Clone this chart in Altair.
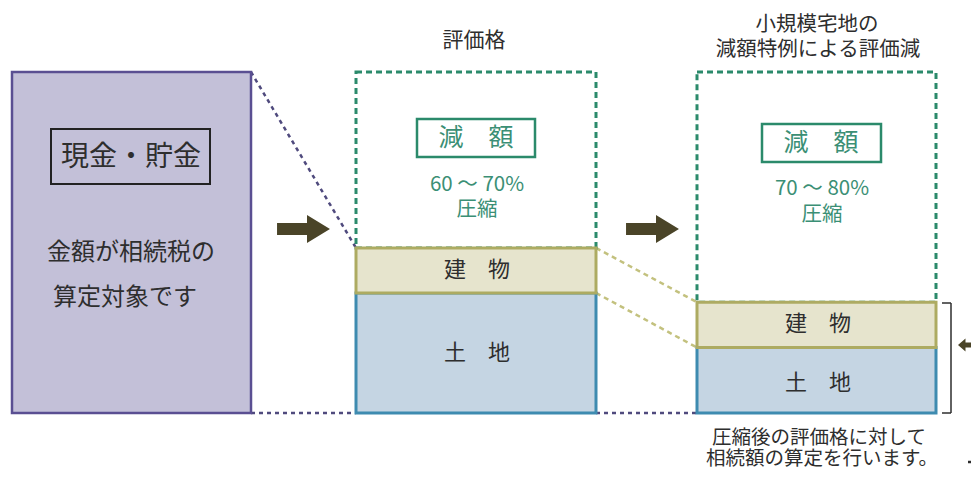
import altair as alt
import pandas as pd

# ---------------- data ----------------
columns = ["現金・貯金", "評価格", "小規模宅地の減額特例による評価減"]
total_value = [100.0, 100.0, 100.0]
land_value = [0.0, 35.2, 19.2]
building_value = [0.0, 13.2, 13.3]
reduction_rate = ["60 ～ 70%", "70 ～ 80%"]
cash_lines = ["金額が相続税の", "算定対象です"]
title_mid = ["評価格"]
title_right = ["小規模宅地の", "減額特例による評価減"]
note_lines = ["圧縮後の評価格に対して", "相続額の算定を行います。"]
land_label = "土　地"
building_label = "建　物"
reduction_label = "減　額"
compress_label = "圧縮"

# ---------------- layout (pixels of the 979x478 page) ----------------
PAGE_LEFT, PAGE_TOP = 8, 8
PLOT_W, PLOT_H = 963, 462
BASE_PX = 413       # pixel row of value 0
UNIT_PX = 3.41      # pixels per value unit
COL_X = [(12, 251), (356, 596), (697, 936)]
FONT = "Noto Sans CJK JP"

PURPLE_FILL = "#c3c0d8"
PURPLE_STROKE = "#5a4f92"
GREEN = "#2b8a6b"
GREEN_TEXT = "#3b8f75"
LAND_FILL = "#c5d5e3"
LAND_STROKE = "#3e8bb0"
BLD_FILL = "#e6e4cd"
BLD_STROKE = "#adab62"
ARROW = "#4a4428"
DARK = "#2e2e2e"
DOT_PURPLE = "#4f4a7d"
DOT_OLIVE = "#c3c17e"


def vy(px):
    return (BASE_PX - px) / UNIT_PX


X_DOMAIN = [PAGE_LEFT, PAGE_LEFT + PLOT_W]
Y_DOMAIN = [vy(PAGE_TOP + PLOT_H), vy(PAGE_TOP)]
xs = alt.Scale(domain=X_DOMAIN, nice=False, zero=False)
ys = alt.Scale(domain=Y_DOMAIN, nice=False, zero=False)


def X(f):
    return alt.X(f, type="quantitative", scale=xs, axis=None)


def Y(f):
    return alt.Y(f, type="quantitative", scale=ys, axis=None)


# ---------------- tables ----------------
cash = pd.DataFrame({
    "x1": [COL_X[0][0]], "x2": [COL_X[0][1]],
    "y1": [0.0], "y2": [total_value[0]],
})

stack = pd.DataFrame({
    "col": columns[1:],
    "x1": [COL_X[1][0], COL_X[2][0]],
    "x2": [COL_X[1][1], COL_X[2][1]],
    "land": land_value[1:],
    "building": building_value[1:],
    "total": total_value[1:],
})
stack["zero"] = 0.0
stack["bld_top"] = stack["land"] + stack["building"]

b1 = stack.iloc[0]
b2 = stack.iloc[1]
purple_lines = pd.DataFrame({
    "x1": [COL_X[0][1], COL_X[0][1], COL_X[1][1]],
    "x2": [COL_X[1][0], COL_X[1][0], COL_X[2][0]],
    "y1": [total_value[0], 0.0, 0.0],
    "y2": [b1["bld_top"], 0.0, 0.0],
})
olive_lines = pd.DataFrame({
    "x1": [COL_X[1][1], COL_X[1][1]],
    "x2": [COL_X[2][0], COL_X[2][0]],
    "y1": [b1["bld_top"], b1["land"]],
    "y2": [b2["bld_top"], b2["land"]],
})

red_boxes = pd.DataFrame({
    "x1": [417, 762], "x2": [535, 881],
    "y1": [vy(119), vy(124)], "y2": [vy(157), vy(162)],
})
cash_box = pd.DataFrame({"x1": [51], "x2": [210], "y1": [vy(129)], "y2": [vy(184)]})

dark_text = pd.DataFrame({
    "t": [title_mid[0], title_right[0], title_right[1], columns[0],
          building_label, land_label, building_label, land_label,
          note_lines[0], note_lines[1]],
    "x": [474, 817, 818, 131, 477, 477, 818, 818, 819, 822],
    "y": [vy(41), vy(25), vy(50), vy(158), vy(270), vy(353), vy(324), vy(383),
          vy(438), vy(459)],
    "s": [21, 20.5, 20.5, 28, 22, 22, 22, 22, 19.5, 19.5],
})
left_text = pd.DataFrame({
    "t": cash_lines,
    "x": [47, 53],
    "y": [vy(253), vy(298)],
})
green_text = pd.DataFrame({
    "t": [reduction_label, reduction_rate[0], compress_label,
          reduction_label, reduction_rate[1], compress_label],
    "x": [476, 477, 477, 821, 822, 822],
    "y": [vy(138), vy(185), vy(210), vy(143), vy(189), vy(215)],
    "s": [25, 20.5, 20.5, 25, 20.5, 20.5],
})

right_arrows = pd.DataFrame({"x": [303.5, 652.5], "y": [vy(229), vy(229)]})
left_arrow = pd.DataFrame({"x": [958], "y": [vy(345)]})

bracket = pd.DataFrame({
    "x1": [942, 951, 942, 968],
    "x2": [951, 951, 951, 979],
    "y1": [vy(303), vy(303), vy(413), vy(462)],
    "y2": [vy(303), vy(413), vy(413), vy(462)],
    "w": [1.5, 1.5, 1.5, 2.5],
})

RIGHT_ARROW_PATH = "M-1.89,-0.43L0.25,-0.43L0.25,-1L1.89,0L0.25,1L0.25,0.43L-1.89,0.43Z"
LEFT_ARROW_PATH = "M0,0L1.07,-0.93L1.07,-0.36L3.2,-0.36L3.2,0.36L1.07,0.36L1.07,0.93Z"


def rect_layer(df, **kw):
    return alt.Chart(df).mark_rect(**kw).encode(
        x=X("x1"), x2=alt.X2("x2"), y=Y("y1"), y2=alt.Y2("y2"))


def rule_layer(df, **kw):
    return alt.Chart(df).mark_rule(**kw).encode(
        x=X("x1"), x2=alt.X2("x2"), y=Y("y1"), y2=alt.Y2("y2"))


dashed = alt.Chart(stack).mark_rect(
    fill="transparent", stroke=GREEN, strokeWidth=3, strokeDash=[6, 4]
).encode(x=X("x1"), x2=alt.X2("x2"), y=Y("bld_top"), y2=alt.Y2("total"))

land = alt.Chart(stack).mark_rect(
    fill=LAND_FILL, stroke=LAND_STROKE, strokeWidth=3
).encode(x=X("x1"), x2=alt.X2("x2"), y=Y("zero"), y2=alt.Y2("land"))

building = alt.Chart(stack).mark_rect(
    fill=BLD_FILL, stroke=BLD_STROKE, strokeWidth=3
).encode(x=X("x1"), x2=alt.X2("x2"), y=Y("land"), y2=alt.Y2("bld_top"))

cash_rect = rect_layer(cash, fill=PURPLE_FILL, stroke=PURPLE_STROKE, strokeWidth=2.5)
cash_label_box = rect_layer(cash_box, fill="transparent", stroke="#222222", strokeWidth=2)
red_box_layer = rect_layer(red_boxes, fill="transparent", stroke=GREEN, strokeWidth=2.5)

purple_rules = rule_layer(purple_lines, color=DOT_PURPLE, strokeWidth=2.5, strokeDash=[4, 4])
olive_rules = rule_layer(olive_lines, color=DOT_OLIVE, strokeWidth=2.5, strokeDash=[5, 4])
bracket_rules = alt.Chart(bracket).mark_rule(color=DARK).encode(
    x=X("x1"), x2=alt.X2("x2"), y=Y("y1"), y2=alt.Y2("y2"),
    strokeWidth=alt.StrokeWidth("w:Q", scale=None))

dark_labels = alt.Chart(dark_text).mark_text(
    font=FONT, color=DARK, align="center", baseline="middle"
).encode(x=X("x"), y=Y("y"), text="t:N", size=alt.Size("s:Q", scale=None))

left_labels = alt.Chart(left_text).mark_text(
    font=FONT, color=DARK, align="left", baseline="middle", fontSize=24
).encode(x=X("x"), y=Y("y"), text="t:N")

green_labels = alt.Chart(green_text).mark_text(
    font=FONT, color=GREEN_TEXT, align="center", baseline="middle"
).encode(x=X("x"), y=Y("y"), text="t:N", size=alt.Size("s:Q", scale=None))

arrows_r = alt.Chart(right_arrows).mark_point(
    shape=RIGHT_ARROW_PATH, size=784, filled=True, color=ARROW, opacity=1, strokeWidth=0
).encode(x=X("x"), y=Y("y"))

arrows_l = alt.Chart(left_arrow).mark_point(
    shape=LEFT_ARROW_PATH, size=196, filled=True, color=ARROW, opacity=1, strokeWidth=0
).encode(x=X("x"), y=Y("y"))

chart = alt.layer(
    purple_rules, olive_rules,
    dashed, cash_rect, land, building,
    cash_label_box, red_box_layer, bracket_rules,
    arrows_r, arrows_l,
    dark_labels, left_labels, green_labels,
).properties(
    width=PLOT_W, height=PLOT_H, padding=0,
    autosize=alt.AutoSizeParams(type="none"),
    background="white",
).configure_view(stroke=None)

chart.save("out.html", embed_options={"renderer": "svg", "actions": False})
